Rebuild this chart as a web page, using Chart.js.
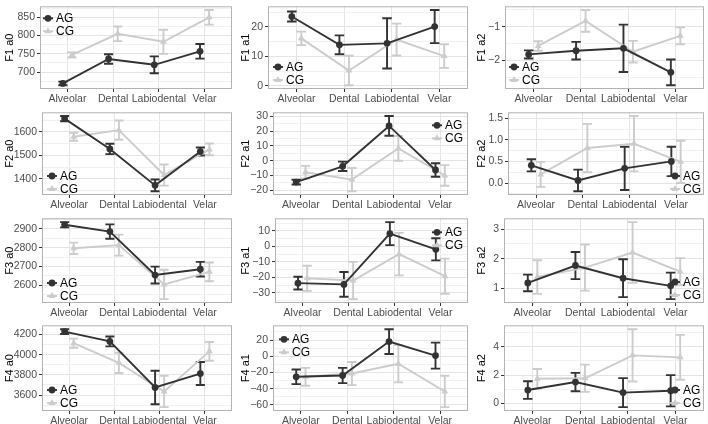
<!DOCTYPE html>
<html>
<head>
<meta charset="utf-8">
<script src="https://cdn.jsdelivr.net/npm/chart.js@4.4.1/dist/chart.umd.min.js"></script>
<style>
  body { margin: 0; background: #fff; }
  #wrap { position: relative; width: 708px; height: 424px; overflow: hidden; background: #fff; }
  #wrap canvas { position: absolute; }
</style>
</head>
<body>
<div id="wrap"></div>
<script>
// categories + groups
const places = ['Alveolar', 'Dental', 'Labiodental', 'Velar'];
const groups = ['AG', 'CG'];

// means and error half-widths
const f1a0_AG = [669, 736, 720, 757];
const f1a0_AGerr = [5, 13, 23, 20];
const f1a0_CG = [747, 805, 783, 850];
const f1a0_CGerr = [7, 20, 33, 20];
const f1a0_ticks = [700, 750, 800, 850];

const f1a1_AG = [23.5, 13.9, 14.4, 20.1];
const f1a1_AGerr = [1.7, 3.2, 8.5, 5.6];
const f1a1_CG = [16.1, 5.2, 15.7, 10.1];
const f1a1_CGerr = [2.3, 5.0, 5.4, 4.0];
const f1a1_ticks = [0, 10, 20];

const f1a2_AG = [-1.82, -1.71, -1.64, -2.35];
const f1a2_AGerr = [0.12, 0.26, 0.70, 0.38];
const f1a2_CG = [-1.57, -0.83, -1.74, -1.27];
const f1a2_CGerr = [0.14, 0.32, 0.32, 0.25];
const f1a2_ticks = [-2, -1];

const f2a0_AG = [1656, 1527, 1372, 1516];
const f2a0_AGerr = [11, 22, 25, 17];
const f2a0_CG = [1579, 1607, 1416, 1525];
const f2a0_CGerr = [17, 41, 45, 25];
const f2a0_ticks = [1400, 1500, 1600];

const f2a1_AG = [-14.5, -3.8, 23.6, -6.3];
const f2a1_AGerr = [1.6, 3.2, 6.7, 4.6];
const f2a1_CG = [-7.8, -12.8, 8.4, -10.0];
const f2a1_CGerr = [4.3, 7.9, 8.4, 7.0];
const f2a1_ticks = [-20, -10, 0, 10, 20, 30];

const f2a2_AG = [0.41, 0.06, 0.34, 0.50];
const f2a2_AGerr = [0.14, 0.25, 0.50, 0.34];
const f2a2_CG = [0.20, 0.81, 0.91, 0.49];
const f2a2_CGerr = [0.29, 0.56, 0.64, 0.49];
const f2a2_ticks = [0, 0.5, 1.0, 1.5];

const f3a0_AG = [2922, 2886, 2655, 2686];
const f3a0_AGerr = [14, 38, 45, 39];
const f3a0_CG = [2797, 2814, 2605, 2672];
const f3a0_CGerr = [30, 56, 78, 50];
const f3a0_ticks = [2600, 2700, 2800, 2900];

const f3a1_AG = [-23.7, -24.5, 8.2, -1.9];
const f3a1_AGerr = [4.1, 8.0, 7.4, 7.1];
const f3a1_CG = [-20.6, -22.0, -5.0, -19.2];
const f3a1_CGerr = [8.1, 12.0, 13.7, 11.3];
const f3a1_ticks = [-30, -20, -10, 0, 10];

const f3a2_AG = [1.18, 1.77, 1.34, 1.08];
const f3a2_AGerr = [0.28, 0.46, 0.64, 0.45];
const f3a2_CG = [1.38, 1.70, 2.21, 1.56];
const f3a2_CGerr = [0.57, 0.78, 1.03, 0.46];
const f3a2_ticks = [1, 2, 3];

const f4a0_AG = [4229, 4132, 3675, 3813];
const f4a0_AGerr = [24, 49, 166, 114];
const f4a0_CG = [4114, 3919, 3635, 4033];
const f4a0_CGerr = [45, 101, 155, 93];
const f4a0_ticks = [3600, 3800, 4000, 4200];

const f4a1_AG = [-25.3, -23.7, 18.1, 0.8];
const f4a1_AGerr = [9.0, 9.4, 15.3, 16.0];
const f4a1_CG = [-25.3, -21.3, -9.2, -43.4];
const f4a1_CGerr = [11.0, 14.3, 23.0, 19.3];
const f4a1_ticks = [-60, -40, -20, 0, 20];

const f4a2_AG = [0.95, 1.51, 0.77, 0.90];
const f4a2_AGerr = [0.62, 0.65, 1.02, 1.10];
const f4a2_CG = [1.74, 1.78, 3.39, 3.25];
const f4a2_CGerr = [0.69, 0.96, 1.84, 1.58];
const f4a2_ticks = [0, 2, 4];

const panels = [
  { title: 'F1 a0', ag: f1a0_AG, agErr: f1a0_AGerr, cg: f1a0_CG, cgErr: f1a0_CGerr, ticks: f1a0_ticks, dec: 0 },
  { title: 'F1 a1', ag: f1a1_AG, agErr: f1a1_AGerr, cg: f1a1_CG, cgErr: f1a1_CGerr, ticks: f1a1_ticks, dec: 0 },
  { title: 'F1 a2', ag: f1a2_AG, agErr: f1a2_AGerr, cg: f1a2_CG, cgErr: f1a2_CGerr, ticks: f1a2_ticks, dec: 0 },
  { title: 'F2 a0', ag: f2a0_AG, agErr: f2a0_AGerr, cg: f2a0_CG, cgErr: f2a0_CGerr, ticks: f2a0_ticks, dec: 0 },
  { title: 'F2 a1', ag: f2a1_AG, agErr: f2a1_AGerr, cg: f2a1_CG, cgErr: f2a1_CGerr, ticks: f2a1_ticks, dec: 0 },
  { title: 'F2 a2', ag: f2a2_AG, agErr: f2a2_AGerr, cg: f2a2_CG, cgErr: f2a2_CGerr, ticks: f2a2_ticks, dec: 1 },
  { title: 'F3 a0', ag: f3a0_AG, agErr: f3a0_AGerr, cg: f3a0_CG, cgErr: f3a0_CGerr, ticks: f3a0_ticks, dec: 0 },
  { title: 'F3 a1', ag: f3a1_AG, agErr: f3a1_AGerr, cg: f3a1_CG, cgErr: f3a1_CGerr, ticks: f3a1_ticks, dec: 0 },
  { title: 'F3 a2', ag: f3a2_AG, agErr: f3a2_AGerr, cg: f3a2_CG, cgErr: f3a2_CGerr, ticks: f3a2_ticks, dec: 0 },
  { title: 'F4 a0', ag: f4a0_AG, agErr: f4a0_AGerr, cg: f4a0_CG, cgErr: f4a0_CGerr, ticks: f4a0_ticks, dec: 0 },
  { title: 'F4 a1', ag: f4a1_AG, agErr: f4a1_AGerr, cg: f4a1_CG, cgErr: f4a1_CGerr, ticks: f4a1_ticks, dec: 0 },
  { title: 'F4 a2', ag: f4a2_AG, agErr: f4a2_AGerr, cg: f4a2_CG, cgErr: f4a2_CGerr, ticks: f4a2_ticks, dec: 0 },
];

// layout of the 4x3 grid (plot-panel edges in page pixels)
const colX = [0, 236, 472];
const colRight = [232, 468, 705];
const rowTop = [2, 108, 214, 321];
const rowBottom = [89, 195, 303, 411];
const plotLeft = [40, 268, 505, 42, 273, 508, 42, 275, 504, 42, 273, 504];
// legend corner + offsets from the panel edge
const legendPos = [
  { corner: 'tl', dx: 3, dy: 12 }, { corner: 'bl', dx: 5, dy: 9 }, { corner: 'bl', dx: 4, dy: 9 },
  { corner: 'bl', dx: 5, dy: 6 }, { corner: 'tr', dx: 5, dy: 13 }, { corner: 'br', dx: 3, dy: 6 },
  { corner: 'bl', dx: 5, dy: 7 }, { corner: 'tr', dx: 5, dy: 14 }, { corner: 'br', dx: 3, dy: 8 },
  { corner: 'bl', dx: 5, dy: 8 }, { corner: 'tl', dx: 6, dy: 14 }, { corner: 'br', dx: 3, dy: 8 },
];

const AG_COLOR = '#333333';
const CG_COLOR = '#cccccc';
const MAJOR = '#e4e4e4';
const MINOR = '#f1f1f1';
const FONT = '"Liberation Sans", Arial, Helvetica, sans-serif';
const DODGE = 0.1;
const LW = 1.9;

function drawMarker(ctx, style, x, y, r, color) {
  ctx.fillStyle = color;
  ctx.beginPath();
  if (style === 'triangle') {
    ctx.moveTo(x, y - r);
    ctx.lineTo(x + r * 0.866, y + r * 0.5);
    ctx.lineTo(x - r * 0.866, y + r * 0.5);
    ctx.closePath();
  } else {
    ctx.arc(x, y, r, 0, Math.PI * 2);
  }
  ctx.fill();
}

const errorBars = {
  id: 'errorBars',
  beforeDatasetsDraw(chart) {
    const { ctx, scales: { x, y } } = chart;
    // light group underneath
    chart.data.datasets.slice().reverse().forEach(ds => {
      ctx.save();
      ctx.strokeStyle = ds.borderColor;
      ctx.lineWidth = LW;
      ds.data.forEach(p => {
        const px = x.getPixelForValue(p.x);
        const hw = x.getPixelForValue(p.x + 0.1) - px;
        const top = y.getPixelForValue(p.y + p.e);
        const bot = y.getPixelForValue(p.y - p.e);
        ctx.beginPath();
        ctx.moveTo(px - hw, top); ctx.lineTo(px + hw, top);
        ctx.moveTo(px, top); ctx.lineTo(px, bot);
        ctx.moveTo(px - hw, bot); ctx.lineTo(px + hw, bot);
        ctx.stroke();
      });
      ctx.restore();
    });
  }
};

const panelBorder = {
  id: 'panelBorder',
  afterDatasetsDraw(chart) {
    const { ctx, chartArea: a } = chart;
    ctx.save();
    ctx.strokeStyle = '#b3b3b3';
    ctx.lineWidth = 1;
    ctx.strokeRect(a.left + 0.5, a.top + 0.5, a.right - a.left - 1, a.bottom - a.top - 1);
    ctx.restore();
  }
};

const insideLegend = {
  id: 'insideLegend',
  afterDraw(chart, args, opts) {
    const { ctx, chartArea: a } = chart;
    const sets = chart.data.datasets;
    ctx.save();
    ctx.font = '12px ' + FONT;
    const textW = Math.max(...sets.map(d => ctx.measureText(d.label).width));
    const keyW = 10, gap = 3, rowH = 13;
    const blockW = keyW + gap + textW;
    const x0 = opts.corner[1] === 'l' ? a.left + opts.dx : a.right - opts.dx - blockW;
    const y0 = opts.corner[0] === 't' ? a.top + opts.dy : a.bottom - opts.dy - rowH * (sets.length - 1);
    sets.forEach((d, i) => {
      const y = y0 + i * rowH;
      ctx.strokeStyle = d.borderColor;
      ctx.lineWidth = LW;
      ctx.beginPath();
      ctx.moveTo(x0, y);
      ctx.lineTo(x0 + keyW, y);
      ctx.stroke();
      drawMarker(ctx, d.pointStyle, x0 + keyW / 2, y, d.pointRadius, d.borderColor);
      ctx.fillStyle = '#000';
      ctx.textBaseline = 'middle';
      ctx.textAlign = 'left';
      ctx.fillText(d.label, x0 + keyW + gap, y + 0.5);
    });
    ctx.restore();
  }
};

function withMinor(major, lo, hi) {
  const step = major[1] - major[0];
  const out = [];
  for (let k = -1; k <= 2 * (major.length - 1) + 1; k++) {
    const v = major[0] + k * step / 2;
    if (v < lo || v > hi) continue;
    out.push({ value: v, minor: k % 2 !== 0 });
  }
  return out;
}

const wrap = document.getElementById('wrap');

panels.forEach((p, idx) => {
  const col = idx % 3, row = Math.floor(idx / 3);
  const x0 = colX[col];
  const top = rowTop[row], bottom = rowBottom[row];

  const canvas = document.createElement('canvas');
  canvas.width = 236;
  canvas.height = bottom - top + 24;
  canvas.style.left = x0 + 'px';
  canvas.style.top = (top - 4) + 'px';
  wrap.appendChild(canvas);

  const agPts = p.ag.map((v, i) => ({ x: i + 1 - DODGE, y: v, e: p.agErr[i] }));
  const cgPts = p.cg.map((v, i) => ({ x: i + 1 + DODGE, y: v, e: p.cgErr[i] }));

  // y range like ggplot: data incl. error bars + 5%
  const all = agPts.concat(cgPts);
  const lo = Math.min(...all.map(d => d.y - d.e));
  const hi = Math.max(...all.map(d => d.y + d.e));
  const pad = (hi - lo) * 0.05;
  const yMin = lo - pad, yMax = hi + pad;

  const fmt = v => v.toFixed(p.dec).replace('-', '\u2212');

  new Chart(canvas, {
    type: 'line',
    data: {
      datasets: [
        { label: groups[0], data: agPts, borderColor: AG_COLOR, backgroundColor: AG_COLOR,
          borderWidth: LW, pointStyle: 'circle', pointRadius: 3.4, pointBorderWidth: 0, tension: 0 },
        { label: groups[1], data: cgPts, borderColor: CG_COLOR, backgroundColor: CG_COLOR,
          borderWidth: LW, pointStyle: 'triangle', pointRadius: 4, pointBorderWidth: 0, tension: 0 },
      ]
    },
    options: {
      responsive: false,
      animation: false,
      devicePixelRatio: 1,
      layout: { padding: { top: 4, right: x0 + 236 - colRight[col], left: 0, bottom: 0 } },
      plugins: {
        legend: { display: false },
        tooltip: { enabled: false },
        insideLegend: legendPos[idx],
      },
      scales: {
        x: {
          type: 'linear',
          min: 0.4,
          max: 4.6,
          afterBuildTicks: s => { s.ticks = places.map((_, i) => ({ value: i + 1 })); },
          afterFit: s => { s.height = 20; },
          ticks: {
            callback: v => places[Math.round(v) - 1],
            autoSkip: false, maxRotation: 0, minRotation: 0, padding: 1,
            color: '#4d4d4d', font: { family: FONT, size: 10.5 },
          },
          grid: { color: MAJOR, lineWidth: 1, tickLength: 3, tickColor: '#333', tickWidth: 1 },
          border: { display: false },
        },
        y: {
          min: yMin,
          max: yMax,
          afterBuildTicks: s => { s.ticks = withMinor(p.ticks, yMin, yMax); },
          afterFit: s => { s.width = plotLeft[idx] - x0; },
          ticks: {
            callback: (v, i, ticks) => ticks[i].minor ? '' : fmt(v),
            autoSkip: false, padding: 2,
            color: '#4d4d4d', font: { family: FONT, size: 10.5 },
          },
          grid: {
            color: c => c.tick && c.tick.minor ? MINOR : MAJOR,
            lineWidth: 1,
            tickLength: 3,
            tickColor: c => c.tick && c.tick.minor ? 'rgba(0,0,0,0)' : '#333',
            tickWidth: c => c.tick && c.tick.minor ? 0 : 1,
          },
          border: { display: false },
          title: {
            display: true, text: p.title, color: '#000',
            font: { family: FONT, size: 11 }, padding: { top: 3, bottom: 0 },
          },
        },
      },
    },
    plugins: [errorBars, panelBorder, insideLegend],
  });
});
</script>
</body>
</html>
